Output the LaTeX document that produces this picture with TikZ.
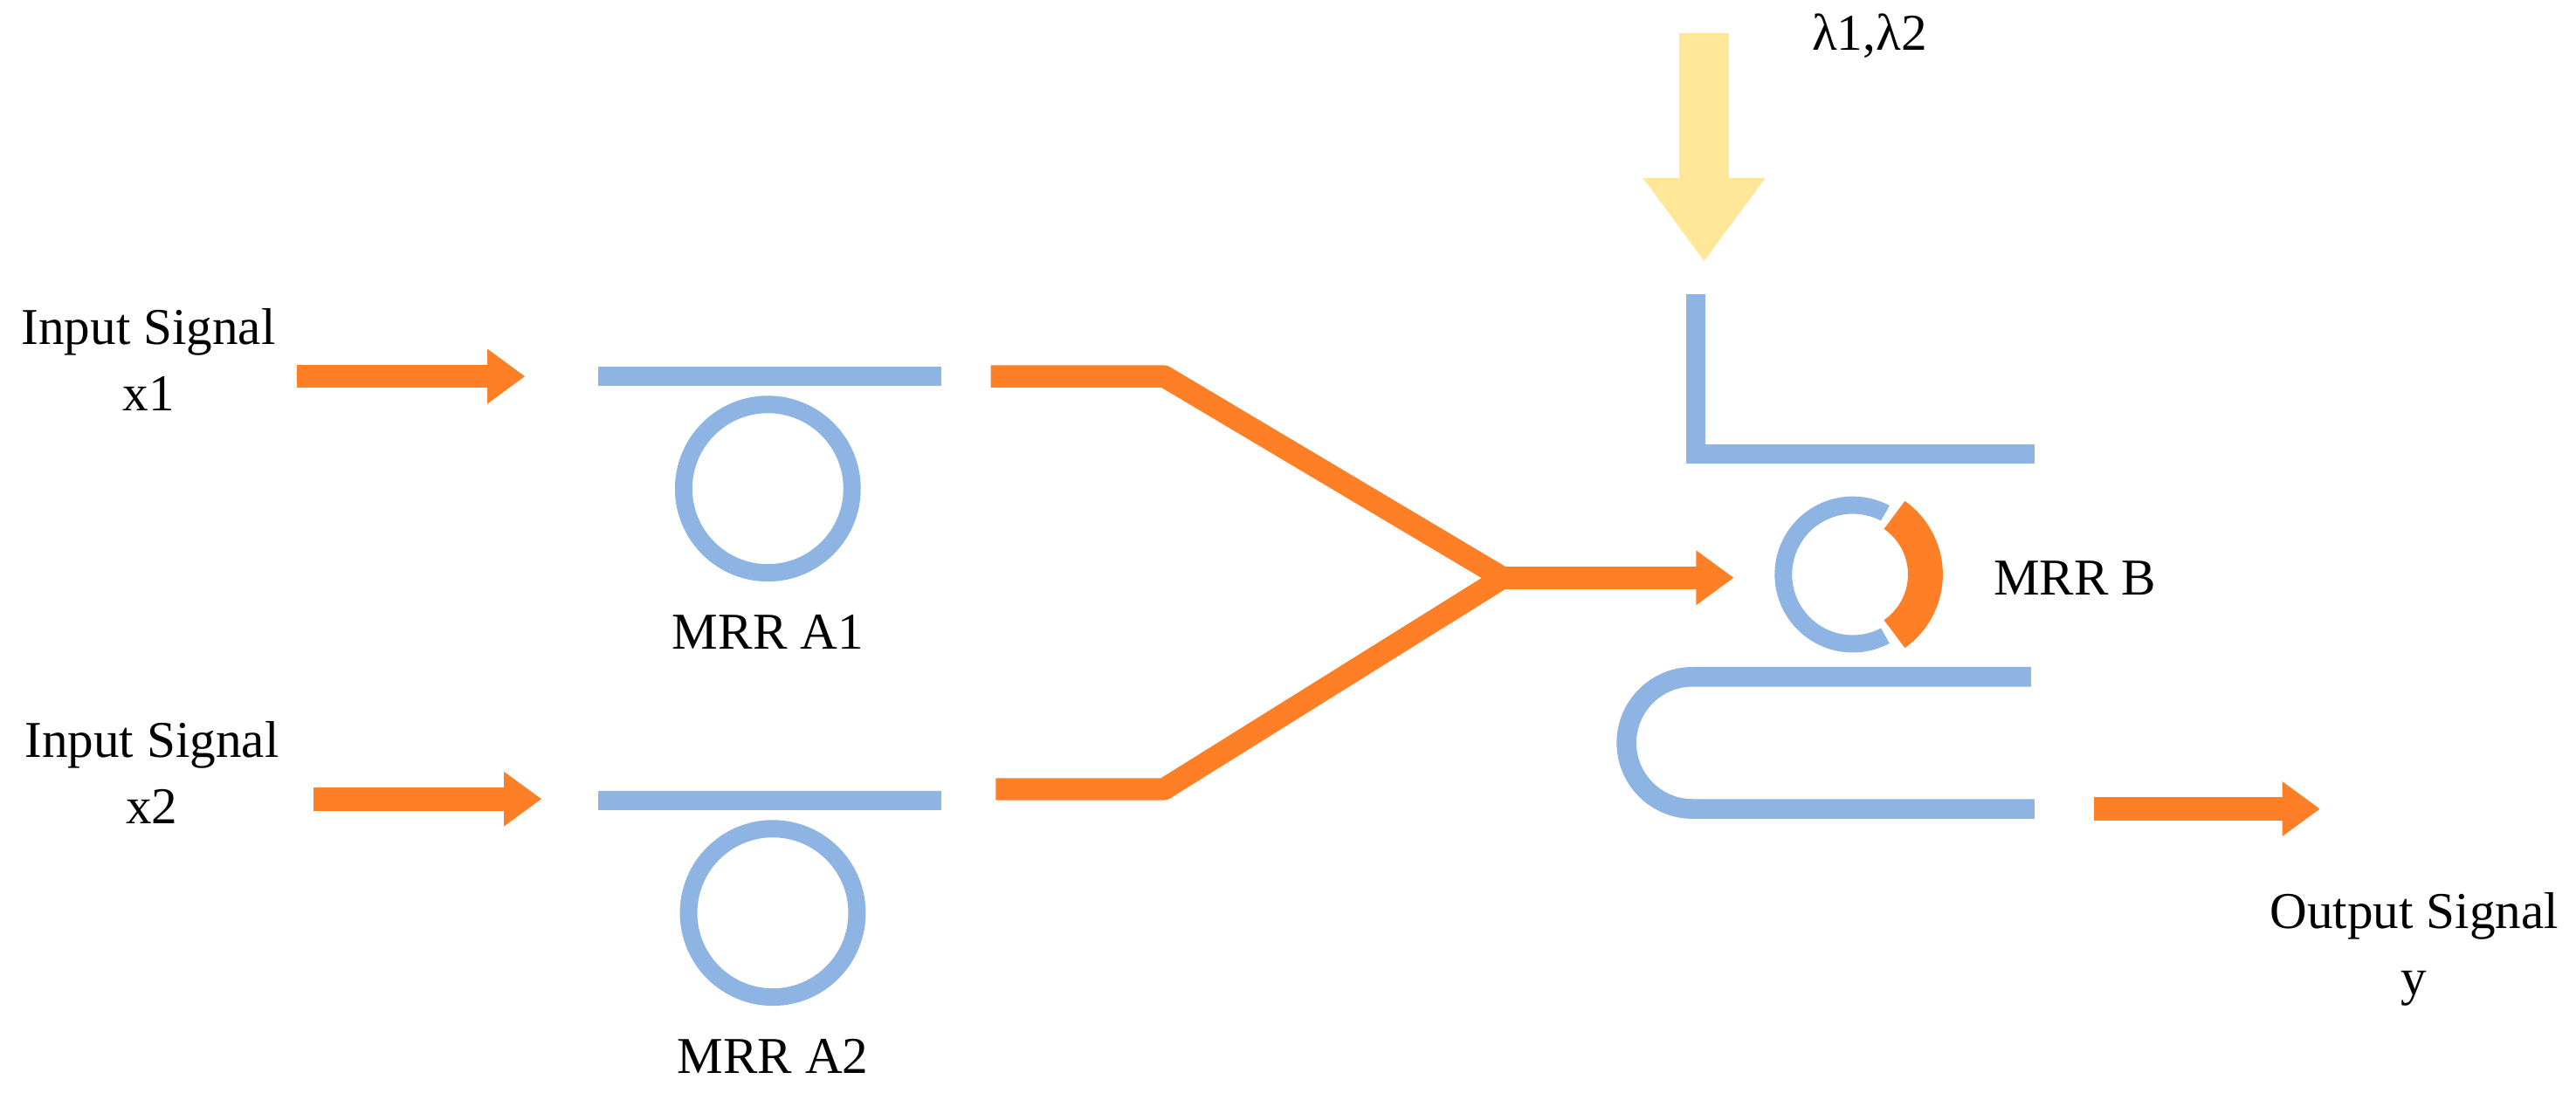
\documentclass[tikz,border=0pt]{standalone}
\usepackage{fontspec}
\setmainfont{Liberation Serif}
\usetikzlibrary{arrows.meta}
\definecolor{wg}{HTML}{8EB4E3}
\definecolor{sig}{HTML}{FF7F27}
\definecolor{pump}{HTML}{FFE699}
\begin{document}
\begin{tikzpicture}[x=0.01cm,y=-0.01cm,
  wave/.style={draw=wg,line width=3.4pt},
  ring/.style={draw=wg,line width=3pt},
  sigl/.style={draw=sig,line width=3.8pt},
  sigarr/.style={draw=sig,line width=4pt,-{Triangle[length=6.5pt,width=9pt]}},
  lab/.style={font=\fontsize{8.9pt}{11.5pt}\selectfont,align=center}]
\useasboundingbox (0,0) rectangle (1560,662);
% inputs
\node[lab] (in1) at (90,218) {Input Signal\\x1};
\node[lab] (in2) at (92,468) {Input Signal\\x2};
\coordinate (a1s) at (180,228); \coordinate (a1e) at (318,228);
\coordinate (a2s) at (190,484); \coordinate (a2e) at (328,484);
\draw[sigarr] (a1s) -- (a1e);
\draw[sigarr] (a2s) -- (a2e);
% MRR A1, A2
\draw[wave] (362,228) -- (570,228);
\draw[ring] (465,296) circle (51);
\node[lab] (mA1) at (465,383) {MRR A1};
\draw[wave] (362,485) -- (570,485);
\draw[ring] (468,553) circle (51);
\node[lab] (mA2) at (468,640) {MRR A2};
% combiner
\coordinate (j) at (910,350);
\draw[sigl,line join=round] (600,228) -- (705,228) -- (j);
\draw[sigl,line join=round] (603,478) -- (705,478) -- (j);
\coordinate (je) at (1050,350);
\draw[sigarr] (j) -- (je);
% pump
\fill[pump] (1017,20) rectangle (1047,108) (995,108) -- (1069,108) -- (1032,158) -- cycle;
\node[lab,anchor=west] (lam) at (1085,22) {λ1,λ2};
% MRR B
\draw[wave] (1027,178) -- (1027,275) -- (1232,275);
\draw[ring] (1122,348) circle (42);
\draw[draw=white,line width=5pt] (1122,348) ++(62:42) arc (62:-62:42);
\draw[draw=sig,line width=6pt] (1122,348) ++(55:44) arc (55:-55:44);
\node[lab,anchor=west] (mB) at (1195,350) {MRR B};
\draw[wave] (1230,410) -- (1025,410) arc (270:90:40) -- (1232,490);
% output
\draw[sigarr] (1268,490) -- (1405,490);
\node[lab] (out) at (1462,575) {Output Signal\\y};
\end{tikzpicture}
\end{document}
